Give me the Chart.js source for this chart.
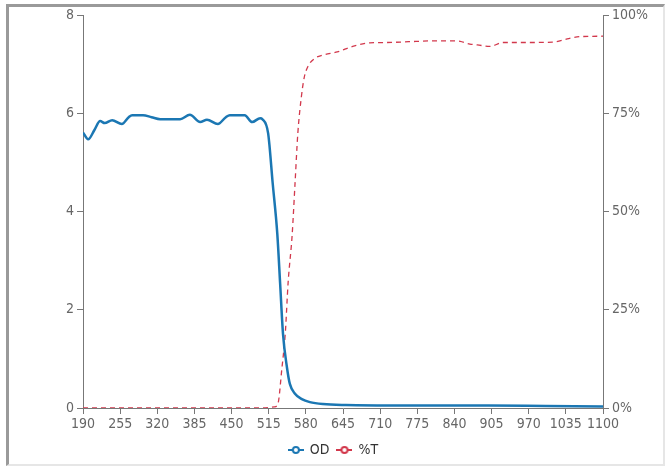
<!DOCTYPE html>
<html>
<head>
<meta charset="utf-8">
<script src="https://cdn.jsdelivr.net/npm/chart.js@4"></script>
<style>
  html, body { margin: 0; padding: 0; background: #fff; }
  .frame {
    position: absolute; left: 6px; top: 4px; width: 654px; height: 457px;
    border-top: 3px solid #9a9a9a; border-left: 3px solid #9a9a9a;
    border-right: 2px solid #e6e6e6; border-bottom: 2px solid #e6e6e6;
  }
  .wrap { position: absolute; left: 0; top: 0; width: 667px; height: 467px; }
</style>
</head>
<body>
<div class="frame"></div>
<div class="wrap"><canvas id="chart" width="667" height="467"></canvas></div>
<script>
// Wavelength ticks (nm)
const xTicks = [190, 255, 320, 385, 450, 515, 580, 645, 710, 775, 840, 905, 970, 1035, 1100];

// Optical density
const odNm = [190, 199, 210, 220, 228, 241, 258, 270, 276, 295, 310, 325, 360, 377, 395, 407, 426, 440, 447, 473, 486, 500, 504, 514, 522, 530, 535, 540, 547, 552, 561, 573, 587, 610, 650, 750, 900, 1000, 1100];
const odValues = [5.61, 5.47, 5.66, 5.84, 5.80, 5.86, 5.78, 5.92, 5.96, 5.96, 5.92, 5.88, 5.88, 5.97, 5.82, 5.87, 5.78, 5.92, 5.96, 5.96, 5.82, 5.90, 5.88, 5.59, 4.57, 3.55, 2.53, 1.51, 0.82, 0.49, 0.29, 0.18, 0.12, 0.08, 0.06, 0.05, 0.05, 0.04, 0.03];

// Transmission (%)
const tNm = [190, 500, 525, 531, 538, 544, 549, 556, 561, 566, 572, 577, 584, 596, 610, 635, 662, 692, 722, 760, 800, 840, 850, 867, 880, 902, 925, 960, 1012, 1040, 1060, 1100];
const tValues = [0, 0, 0.3, 1, 10, 19, 32, 44, 57, 70, 79, 84, 87, 89, 89.8, 90.6, 92, 92.9, 93, 93.2, 93.4, 93.4, 93.3, 92.6, 92.4, 92, 93, 93, 93.1, 94, 94.5, 94.6];

const odColor = '#1b77b3';
const tColor = '#d2384c';
const tickFont = { family: "'Liberation Sans Narrow', 'DejaVu Sans Condensed', sans-serif", size: 14 };

// legend marker: short line with hollow circle
function legendIcon(color) {
    const c = document.createElement('canvas');
    c.width = 16; c.height = 10;
    const ctx = c.getContext('2d');
    ctx.strokeStyle = color;
    ctx.lineWidth = 2;
    ctx.beginPath(); ctx.moveTo(0, 5); ctx.lineTo(16, 5); ctx.stroke();
    ctx.beginPath(); ctx.arc(8, 5, 3, 0, Math.PI * 2);
    ctx.fillStyle = '#fff'; ctx.fill(); ctx.stroke();
    return c;
}

const toPoints = (xs, ys) => xs.map((x, i) => ({ x: x, y: ys[i] }));

const axisBorder = { display: true, color: '#777', width: 1 };
const axisGrid = { display: true, drawOnChartArea: false, drawTicks: true, tickLength: 6, color: '#777' };

new Chart(document.getElementById('chart'), {
    type: 'line',
    data: {
        datasets: [
            {
                label: 'OD',
                data: toPoints(odNm, odValues),
                yAxisID: 'y',
                borderColor: odColor,
                borderWidth: 2.5,
                pointRadius: 0,
                cubicInterpolationMode: 'monotone'
            },
            {
                label: '%T',
                data: toPoints(tNm, tValues),
                yAxisID: 'y2',
                borderColor: tColor,
                borderWidth: 1.3,
                borderDash: [5, 4],
                pointRadius: 0,
                cubicInterpolationMode: 'monotone'
            }
        ]
    },
    options: {
        responsive: false,
        animation: false,
        layout: { padding: { top: 15, left: 0, right: 0, bottom: 0 } },
        plugins: {
            tooltip: { enabled: false },
            legend: {
                position: 'bottom',
                labels: {
                    usePointStyle: true,
                    color: '#333',
                    font: { family: tickFont.family, size: 14 },
                    padding: 8,
                    generateLabels: (chart) => chart.data.datasets.map((ds, i) => ({
                        text: ds.label,
                        pointStyle: legendIcon(ds.borderColor),
                        fontColor: '#333',
                        datasetIndex: i,
                        hidden: false,
                        lineWidth: 0
                    }))
                }
            }
        },
        scales: {
            x: {
                type: 'linear',
                min: 190,
                max: 1100,
                border: axisBorder,
                grid: axisGrid,
                afterBuildTicks: (s) => { s.ticks = xTicks.map(v => ({ value: v })); },
                afterFit: (s) => { s.height = 27; },
                ticks: { color: '#666', font: tickFont, padding: 2, maxRotation: 0, autoSkip: false, callback: v => String(v) }
            },
            y: {
                position: 'left',
                min: 0,
                max: 8,
                border: axisBorder,
                grid: axisGrid,
                afterFit: (s) => { s.width = 83; },
                ticks: { stepSize: 2, color: '#666', font: tickFont, padding: 3 }
            },
            y2: {
                position: 'right',
                min: 0,
                max: 100,
                border: axisBorder,
                grid: axisGrid,
                afterFit: (s) => { s.width = 64; },
                ticks: { stepSize: 25, color: '#666', font: tickFont, padding: 3, callback: v => v + '%' }
            }
        }
    }
});
</script>
</body>
</html>
